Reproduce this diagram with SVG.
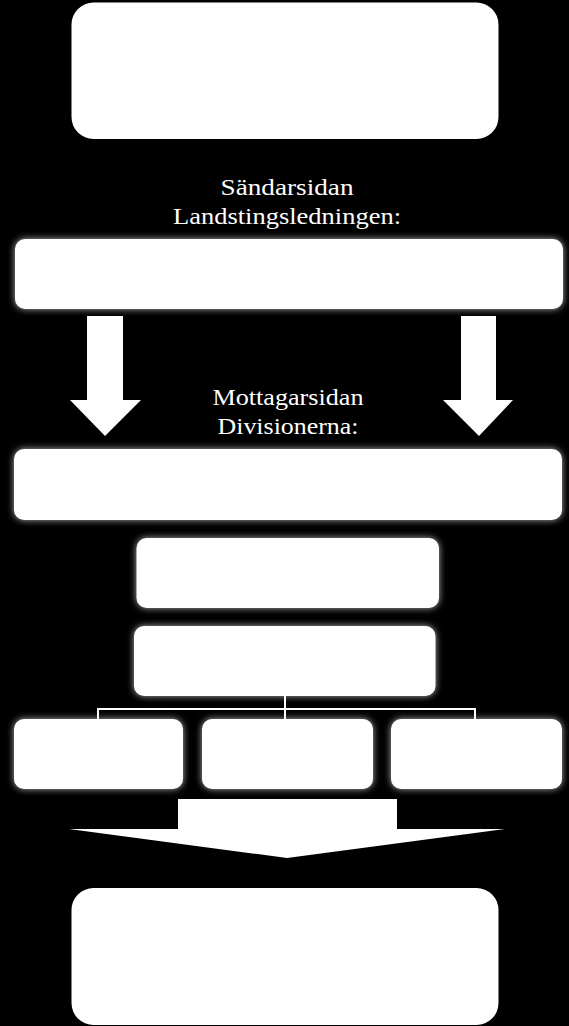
<svg xmlns="http://www.w3.org/2000/svg" width="569" height="1026" viewBox="0 0 569 1026">
<defs>
<filter id="glow" x="-10%" y="-30%" width="120%" height="160%">
<feGaussianBlur in="SourceAlpha" stdDeviation="3.5" result="b"/>
<feFlood flood-color="#ffffff" flood-opacity="0.7"/>
<feComposite in2="b" operator="in" result="g"/>
<feMerge><feMergeNode in="g"/><feMergeNode in="SourceGraphic"/></feMerge>
</filter>
</defs>
<style>
.box{fill:#ffffff}
.glow{filter:url(#glow)}
.lbl{fill:#ffffff;font-family:"Liberation Serif","DejaVu Serif",serif;font-size:24px;text-anchor:middle}
.conn{stroke:#ffffff;stroke-width:2;fill:none}
.arrow{fill:#ffffff}
</style>
<rect x="0" y="0" width="569" height="1026" fill="#000000"/>
<g id="node-top"><rect class="box" x="71.5" y="2.5" width="427" height="136.5" rx="22"/></g>
<g id="label-sandarsidan">
<text class="lbl" x="287" y="195" textLength="133" lengthAdjust="spacingAndGlyphs">Sändarsidan</text>
<text class="lbl" x="287" y="224" textLength="228" lengthAdjust="spacingAndGlyphs">Landstingsledningen:</text>
</g>
<g id="node-landsting"><rect class="box glow" x="15" y="239" width="548" height="70" rx="10"/></g>
<g id="label-mottagarsidan">
<text class="lbl" x="288" y="405" textLength="151" lengthAdjust="spacingAndGlyphs">Mottagarsidan</text>
<text class="lbl" x="288" y="434" textLength="141" lengthAdjust="spacingAndGlyphs">Divisionerna:</text>
</g>
<g id="node-divisioner"><rect class="box glow" x="14" y="449" width="548" height="71" rx="10"/></g>
<g id="node-mid1"><rect class="box glow" x="136.5" y="538" width="302.5" height="70" rx="10"/></g>
<g id="node-mid2"><rect class="box glow" x="134" y="626" width="301.5" height="70" rx="10"/></g>
<g id="node-sub1"><rect class="box glow" x="14" y="719" width="169" height="70" rx="10"/></g>
<g id="node-sub2"><rect class="box glow" x="202" y="719" width="171" height="70" rx="10"/></g>
<g id="node-sub3"><rect class="box glow" x="391" y="719" width="171" height="70" rx="10"/></g>
<g id="node-bottom"><rect class="box" x="71.5" y="888" width="427" height="137" rx="22"/></g>
<g id="connectors">
<path class="arrow" d="M87,316 H123 V400 H141 L105,436 L70,400 H87 Z"/>
<path class="arrow" d="M461,316 H496 V400 H513 L479,436 L443,400 H461 Z"/>
<path class="conn" d="M285,696 V719 M98,719 V709 H475 V719"/>
<path class="arrow" d="M178,799 H397 V829 H505 L287,858 L69,829 H178 Z"/>
</g>
</svg>
